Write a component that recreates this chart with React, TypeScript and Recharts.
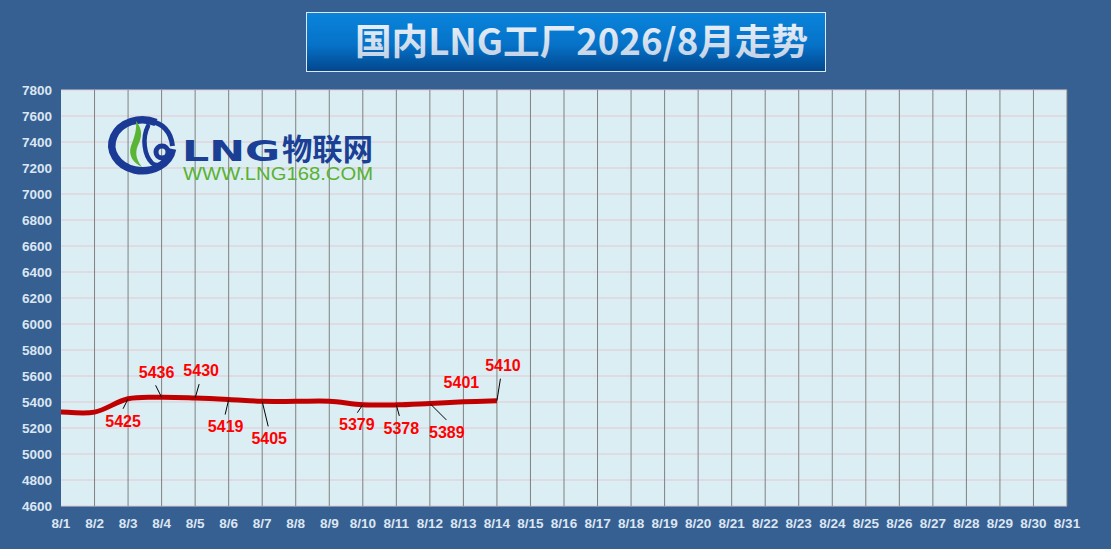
import React from 'react';
import { LineChart, Line, XAxis, YAxis, CartesianGrid, ReferenceLine, LabelList } from 'recharts';

const categories = [
  '8/1', '8/2', '8/3', '8/4', '8/5', '8/6', '8/7', '8/8', '8/9', '8/10',
  '8/11', '8/12', '8/13', '8/14', '8/15', '8/16', '8/17', '8/18', '8/19', '8/20',
  '8/21', '8/22', '8/23', '8/24', '8/25', '8/26', '8/27', '8/28', '8/29', '8/30', '8/31',
];

const prices: (number | null)[] = [
  5324, 5322, 5425, 5436, 5430, 5419, 5405, 5405, 5406, 5379, 5378, 5389, 5401, 5410,
];

const yTicks = [4600, 4800, 5000, 5200, 5400, 5600, 5800, 6000, 6200, 6400, 6600, 6800, 7000, 7200, 7400, 7600, 7800];

// label placement offsets (text centre and leader end) relative to the point, by index
type Place = { tx: number; ty: number; lx?: number; ly?: number } | null;
const labelPlaces: Place[] = [
  null,
  null,
  { tx: -5, ty: 22, lx: -5, ly: 10 },
  { tx: -5, ty: -25, lx: -6, ly: -12 },
  { tx: 6, ty: -28, lx: 4, ly: -14 },
  { tx: -3, ty: 27, lx: -3.5, ly: 15 },
  { tx: 7, ty: 37, lx: 6, ly: 25 },
  null,
  null,
  { tx: -6, ty: 20, lx: -5.5, ly: 8 },
  { tx: 5, ty: 23, lx: 3, ly: 11 },
  { tx: 17, ty: 29, lx: 16.5, ly: 16.5 },
  { tx: -2, ty: -20 },
  { tx: 6, ty: -35, lx: 3.5, ly: -22 },
];

const data = categories.map((c, i) => ({ date: c, price: prices[i] ?? null }));

// Excel-like smoothed line (uniform Catmull-Rom as cubic Béziers)
const smoothCurve = (context: any) => {
  let pts: [number, number][] = [];
  return {
    areaStart() {},
    areaEnd() {},
    lineStart() {
      pts = [];
    },
    point(x: number, y: number) {
      pts.push([+x, +y]);
    },
    lineEnd() {
      if (!pts.length) return;
      context.moveTo(pts[0][0], pts[0][1]);
      if (pts.length === 1) {
        context.lineTo(pts[0][0], pts[0][1]);
        return;
      }
      for (let i = 0; i < pts.length - 1; i++) {
        const p0 = pts[i - 1] || pts[i];
        const p1 = pts[i];
        const p2 = pts[i + 1];
        const p3 = pts[i + 2] || pts[i + 1];
        context.bezierCurveTo(
          p1[0] + (p2[0] - p0[0]) / 6,
          p1[1] + (p2[1] - p0[1]) / 6,
          p2[0] - (p3[0] - p1[0]) / 6,
          p2[1] - (p3[1] - p1[1]) / 6,
          p2[0],
          p2[1]
        );
      }
    },
  };
};

const renderLabel = (props: any) => {
  const { x, y, index, value } = props;
  const p = labelPlaces[index];
  if (!p || value == null || x == null || y == null) return null;
  return (
    <g>
      {p.lx !== undefined && (
        <line x1={x} y1={y} x2={x + p.lx} y2={y + (p.ly as number)} stroke="#000" strokeWidth={1} />
      )}
      <text
        x={x + p.tx}
        y={y + p.ty}
        dy="0.36em"
        textAnchor="middle"
        fill="#ff0000"
        fontFamily="'Liberation Sans', Arial, sans-serif"
        fontWeight="bold"
        fontSize={16}
      >
        {value}
      </text>
    </g>
  );
};

const Overlay = () => (
  <svg width={1111} height={549} style={{ position: 'absolute', left: 0, top: 0, pointerEvents: 'none' }}>
    <defs>
      <linearGradient id="tbox" x1="0" y1="0" x2="0" y2="1">
        <stop offset="0%" stopColor="#0a84dc" />
        <stop offset="55%" stopColor="#0672c8" />
        <stop offset="100%" stopColor="#02468c" />
      </linearGradient>
      <linearGradient id="ttext" x1="0" y1="0" x2="0" y2="1">
        <stop offset="0%" stopColor="#f4f8fc" />
        <stop offset="100%" stopColor="#bccde3" />
      </linearGradient>
    </defs>
    <rect x={306.5} y={12.5} width={519} height={59} fill="url(#tbox)" stroke="#dfe8f2" strokeWidth={1} />
    <text
      x={355}
      y={55}
      fill="url(#ttext)"
      fontFamily="'Noto Sans CJK SC', sans-serif"
      fontWeight="bold"
      fontSize={36}
      textLength={453}
      lengthAdjust="spacingAndGlyphs"
    >
      国内LNG工厂2026/8月走势
    </text>

    {/* logo */}
    <g>
      <path
        d="M156 122.5 A30.5 25.5 0 1 0 172.5 149"
        fill="none"
        stroke="#1b3a95"
        strokeWidth={7.5}
      />
      <path
        d="M151 121.5 C162 123 171 131 172.5 146"
        fill="none"
        stroke="#1b3a95"
        strokeWidth={5}
      />
      <path
        d="M148 126 C142 138 144 155 152 163 C156 167 164 165 168 158"
        fill="none"
        stroke="#1b3a95"
        strokeWidth={4.5}
        strokeLinecap="round"
      />
      <circle cx={162} cy={152} r={6} fill="none" stroke="#1b3a95" strokeWidth={5} />
      <path
        d="M136 121 C141 127 143 134 139 143 C135 151 135 158 142 167 C133 163 128 155 131 146 C134 138 137 130 136 121 Z"
        fill="#5ab534"
      />
      <text
        x={182}
        y={161}
        fill="#1b3f94"
        fontFamily="'DejaVu Sans', sans-serif"
        fontWeight="bold"
        fontSize={28}
        textLength={98}
        lengthAdjust="spacingAndGlyphs"
      >
        LNG
      </text>
      <text
        x={282}
        y={160}
        fill="#1b3f94"
        fontFamily="'Noto Sans CJK SC', sans-serif"
        fontWeight="bold"
        fontSize={30}
        textLength={91}
        lengthAdjust="spacingAndGlyphs"
      >
        物联网
      </text>
      <text
        x={183}
        y={180}
        fill="#5cb131"
        fontFamily="'Liberation Sans', Arial, sans-serif"
        fontSize={18}
        textLength={190}
        lengthAdjust="spacingAndGlyphs"
      >
        WWW.LNG168.COM
      </text>
    </g>
  </svg>
);

export default function App() {
  return (
    <div style={{ position: 'absolute', left: 0, top: 0, width: 1111, height: 549, background: '#366092', overflow: 'hidden' }}>
      <LineChart width={1111} height={549} data={data} margin={{ top: 90, right: 44, bottom: 0, left: 0 }}>
        <CartesianGrid vertical={false} stroke="#e5c8d3" fill="#daeef3" fillOpacity={1} />
        {categories.slice(1).map((c) => (
          <ReferenceLine key={c} x={c} stroke="#808080" strokeWidth={1} ifOverflow="visible" />
        ))}
        <XAxis
          dataKey="date"
          interval={0}
          axisLine={false}
          tickLine={false}
          tickSize={0}
          tickMargin={12}
          height={43}
          tick={{ fill: '#dce6f2', fontSize: 13.5, fontWeight: 'bold', fontFamily: "'Liberation Sans', Arial, sans-serif" }}
        />
        <YAxis
          domain={[4600, 7800]}
          ticks={yTicks}
          interval={0}
          axisLine={false}
          tickLine={false}
          tickSize={0}
          tickMargin={9}
          width={61}
          tick={{ fill: '#dce6f2', fontSize: 13.5, fontWeight: 'bold', fontFamily: "'Liberation Sans', Arial, sans-serif" }}
        />
        <Line
          type={smoothCurve as any}
          dataKey="price"
          stroke="#c00000"
          strokeWidth={5}
          dot={false}
          activeDot={false}
          isAnimationActive={false}
          connectNulls={false}
        >
          <LabelList dataKey="price" content={renderLabel} />
        </Line>
      </LineChart>
      <Overlay />
    </div>
  );
}
